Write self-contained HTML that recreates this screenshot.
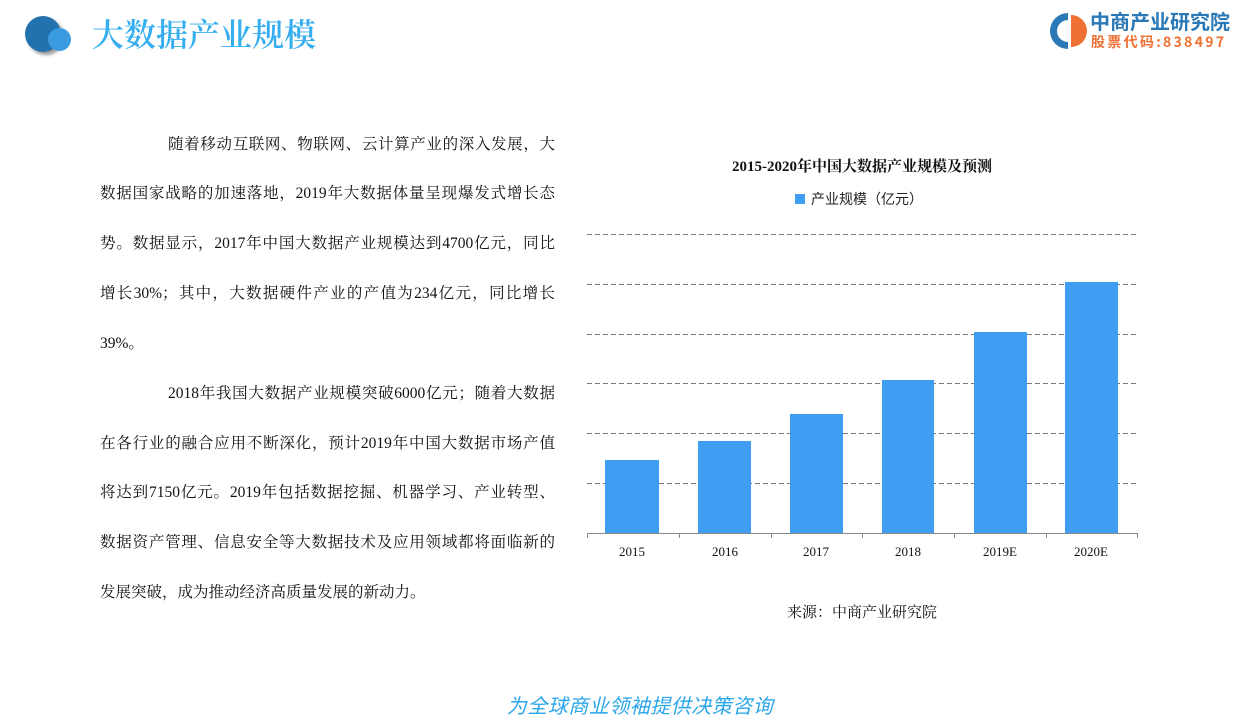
<!DOCTYPE html>
<html><head><meta charset="utf-8">
<style>
body{margin:0;width:1252px;height:724px;background:#fff;position:relative;overflow:hidden;font-family:"Liberation Serif","Noto Serif CJK SC","Noto Sans CJK SC",serif;}
.t{position:absolute;font-size:15.5px;color:#111;white-space:nowrap;line-height:20px;}
.j{width:455px;text-align:justify;text-align-last:justify;left:100px;}
</style></head><body>
<div style="position:absolute;left:25px;top:16px;width:36px;height:36px;border-radius:50%;background:#2272ad;box-shadow:3px 3px 3px #999"></div>
<div style="position:absolute;left:48px;top:28px;width:23px;height:23px;border-radius:50%;background:#3b9be0;"></div>
<div style="position:absolute;left:92px;top:13px;font-size:32px;color:#35aef0;font-family:'Noto Serif CJK SC',serif;font-weight:600;line-height:40px">大数据产业规模</div>
<svg style="position:absolute;left:1048px;top:11px" width="40" height="40" viewBox="0 0 40 40">
<path d="M20 2 A18 18 0 1 0 20 38 L20 31 A11 11 0 1 1 20 9 Z" fill="#2a78b5"/>
<path d="M23 4 L23 36 A16 16 0 0 0 23 4 Z" fill="#ee7033"/>
</svg>
<div style="position:absolute;left:1090px;top:9px;font-size:20px;color:#2a78b5;font-family:'Noto Sans CJK SC',sans-serif;line-height:24px;font-weight:bold">中商产业研究院</div>
<div style="position:absolute;left:1091px;top:33px;font-size:14px;color:#ee7033;font-family:'Noto Sans CJK SC',sans-serif;line-height:18px;letter-spacing:2.3px;font-weight:bold">股票代码:838497</div>

<div class="t" style="left:168px;top:135px;width:387px;text-align:justify;text-align-last:justify">随着移动互联网、物联网、云计算产业的深入发展，大</div>
<div class="t j" style="top:184px">数据国家战略的加速落地，2019年大数据体量呈现爆发式增长态</div>
<div class="t j" style="top:234px">势。数据显示，2017年中国大数据产业规模达到4700亿元，同比</div>
<div class="t j" style="top:284px">增长30%；其中，大数据硬件产业的产值为234亿元，同比增长</div>
<div class="t" style="left:100px;top:334px">39%。</div>
<div class="t" style="left:168px;top:384px;width:387px;text-align:justify;text-align-last:justify">2018年我国大数据产业规模突破6000亿元；随着大数据</div>
<div class="t j" style="top:434px">在各行业的融合应用不断深化，预计2019年中国大数据市场产值</div>
<div class="t j" style="top:483px">将达到7150亿元。2019年包括数据挖掘、机器学习、产业转型、</div>
<div class="t j" style="top:533px">数据资产管理、信息安全等大数据技术及应用领域都将面临新的</div>
<div class="t" style="left:100px;top:583px">发展突破，成为推动经济高质量发展的新动力。</div>

<div style="position:absolute;left:587px;width:550px;top:157px;text-align:center;font-size:15px;font-weight:bold;color:#111;line-height:20px">2015-2020年中国大数据产业规模及预测</div>
<div style="position:absolute;left:795px;top:194px;width:10px;height:10px;background:#3f9ef2"></div>
<div style="position:absolute;left:811px;top:190px;font-size:14px;color:#222;line-height:18px;font-family:'Noto Sans CJK SC',sans-serif">产业规模（亿元）</div>
<svg style="position:absolute;left:0;top:0" width="1252" height="724">
<g stroke="#777" stroke-dasharray="5,3" stroke-width="1">
<line x1="587" x2="1137" y1="234.5" y2="234.5"/><line x1="587" x2="1137" y1="284.5" y2="284.5"/>
<line x1="587" x2="1137" y1="334.5" y2="334.5"/><line x1="587" x2="1137" y1="383.5" y2="383.5"/>
<line x1="587" x2="1137" y1="433.5" y2="433.5"/><line x1="587" x2="1137" y1="483.5" y2="483.5"/>
</g>
<g fill="#3f9ef2">
<rect x="605" y="460" width="54" height="73"/><rect x="698" y="441" width="53" height="92"/>
<rect x="790" y="414" width="53" height="119"/><rect x="882" y="380" width="52" height="153"/>
<rect x="974" y="332" width="53" height="201"/><rect x="1065" y="282" width="53" height="251"/>
</g>
<g stroke="#888" stroke-width="1">
<line x1="587" x2="1138" y1="533.5" y2="533.5"/>
<line x1="587.5" x2="587.5" y1="533" y2="538"/><line x1="679.5" x2="679.5" y1="533" y2="538"/>
<line x1="771.5" x2="771.5" y1="533" y2="538"/><line x1="862.5" x2="862.5" y1="533" y2="538"/>
<line x1="954.5" x2="954.5" y1="533" y2="538"/><line x1="1046.5" x2="1046.5" y1="533" y2="538"/>
<line x1="1137.5" x2="1137.5" y1="533" y2="538"/>
</g>
<g font-family="Liberation Serif,serif" font-size="13" fill="#111" text-anchor="middle">
<text x="632" y="556">2015</text><text x="725" y="556">2016</text><text x="816" y="556">2017</text>
<text x="908" y="556">2018</text><text x="1000" y="556">2019E</text><text x="1091" y="556">2020E</text>
</g>
</svg>
<div style="position:absolute;left:762px;width:200px;top:603px;text-align:center;font-size:15px;color:#111;line-height:20px">来源：中商产业研究院</div>
<div style="position:absolute;left:450px;width:380px;top:692px;text-align:center;font-size:20px;color:#2aa6ea;font-style:italic;line-height:26px;letter-spacing:0.5px;font-family:'Noto Sans CJK SC',sans-serif">为全球商业领袖提供决策咨询</div>
</body></html>
